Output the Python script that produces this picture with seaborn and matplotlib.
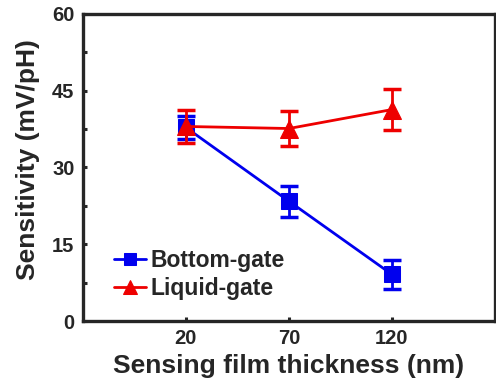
import numpy as np
import pandas as pd
import matplotlib
matplotlib.use("Agg")
import matplotlib.pyplot as plt
import seaborn as sns
from matplotlib.ticker import MultipleLocator

# Data
thickness = ["20", "70", "120"]
bottom_gate = [37.8, 23.4, 9.1]
bottom_err = [2.2, 3.0, 2.8]
liquid_gate = [38.0, 37.6, 41.3]
liquid_err = [3.2, 3.5, 4.0]

sns.set_style("ticks")
plt.rcParams['font.family'] = ['Liberation Sans', 'DejaVu Sans']
plt.rcParams['font.weight'] = 'bold'

pos = np.arange(1, len(thickness) + 1)
df = pd.DataFrame({
    "pos": np.concatenate([pos, pos]),
    "value": bottom_gate + liquid_gate,
    "series": ["Bottom-gate"] * 3 + ["Liquid-gate"] * 3,
})

fig = plt.figure(figsize=(4.96, 3.84), dpi=100)
ax = fig.add_axes([0.167, 0.164, 0.831, 0.800])

colors = {"Bottom-gate": "#0000ee", "Liquid-gate": "#ee0000"}
markers = {"Bottom-gate": "s", "Liquid-gate": "^"}
sizes = {"Bottom-gate": 11, "Liquid-gate": 13}
errs = {"Bottom-gate": bottom_err, "Liquid-gate": liquid_err}

for name in ["Bottom-gate", "Liquid-gate"]:
    sub = df[df["series"] == name]
    ax.errorbar(sub["pos"], sub["value"], yerr=errs[name], fmt="none",
                ecolor=colors[name], elinewidth=2, capsize=6.5, capthick=2.5, zorder=2)
    sns.lineplot(data=sub, x="pos", y="value", ax=ax, color=colors[name],
                 marker=markers[name], markersize=sizes[name], markeredgecolor=colors[name],
                 linewidth=2, label=name, zorder=3)

ax.set_xlim(0, 4)
ax.set_ylim(0, 60)
ax.set_xticks(pos)
ax.set_xticklabels(thickness)
ax.yaxis.set_major_locator(MultipleLocator(15))
ax.yaxis.set_minor_locator(MultipleLocator(7.5))
ax.tick_params(axis="both", which="both", direction="in", labelsize=14.5, width=2.2, length=3)
ax.tick_params(axis="both", which="major", pad=6)
for lab in ax.get_xticklabels() + ax.get_yticklabels():
    lab.set_fontweight("bold")

for s in ax.spines.values():
    s.set_linewidth(2.4)
    s.set_visible(True)

ax.set_xlabel("Sensing film thickness (nm)", fontsize=19, fontweight="bold", labelpad=4)
ax.set_ylabel("Sensitivity (mV/pH)", fontsize=19, fontweight="bold")
ax.yaxis.set_label_coords(-0.105, 0.524)

ax.legend(loc="lower left", bbox_to_anchor=(0.053, 0.04), frameon=False,
          prop={"size": 16.5, "weight": "bold"}, handlelength=1.4, handletextpad=0.2,
          labelspacing=0.22, borderaxespad=0, markerscale=0.8)

fig.savefig("out.png", dpi=100)
